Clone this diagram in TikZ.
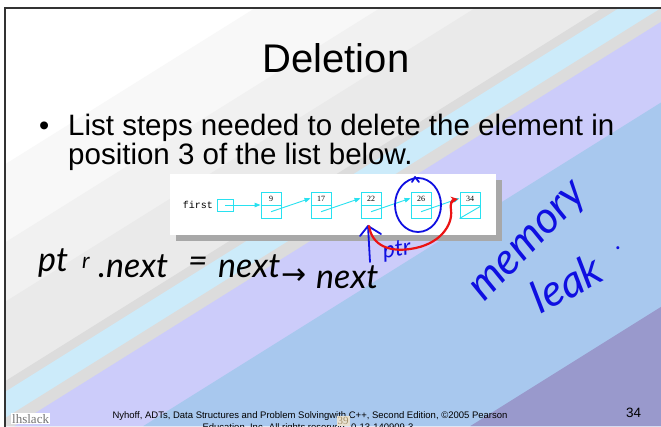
\documentclass[tikz,border=0pt]{standalone}
\usepackage{fontspec}
\usepackage{graphicx}
\setmainfont{Liberation Sans}
\newfontfamily\serifft{Liberation Serif}
\newfontfamily\monoft{Liberation Mono}
\newfontfamily\handft{Lato}
\newfontfamily\dvft{DejaVu Sans}
\usetikzlibrary{arrows.meta,calc}
\definecolor{bgA}{HTML}{F8F8F8}
\definecolor{bgB}{HTML}{F1F1F1}
\definecolor{bgC}{HTML}{EAEAEA}
\definecolor{bgGray}{HTML}{DCDCDC}
\definecolor{bgLblue}{HTML}{CCEBFA}
\definecolor{bgLav}{HTML}{CCCCFA}
\definecolor{bgBlue}{HTML}{A8C8EE}
\definecolor{bgPurp}{HTML}{9999CC}
\definecolor{cy}{RGB}{40,225,240}
\definecolor{pen}{RGB}{15,15,225}
\definecolor{redpen}{RGB}{235,20,20}
\definecolor{shadow}{HTML}{A8A8A8}
\definecolor{tag}{RGB}{232,226,210}
\definecolor{tagtxt}{RGB}{165,145,105}
\tikzset{
  lnode/.style={draw=cy, line width=0.9pt, minimum width=20pt, minimum height=26pt, inner sep=0pt},
  numtxt/.style={font=\serifft\fontsize{8}{9}\selectfont, inner sep=0pt},
  carrow/.style={draw=cy, line width=0.9pt, -{Triangle[length=6pt,width=4.5pt]}},
  bluepen/.style={draw=pen, line width=1.8pt, line cap=round, line join=round},
  hand/.style={font=\handft\itshape\fontsize{34}{38}\selectfont, inner sep=0pt, anchor=base west},
  bluehand/.style={font=\handft\itshape\fontsize{44}{48}\selectfont, inner sep=0pt, text=pen},
}
\begin{document}
\begin{tikzpicture}[x=1pt,y=-1pt]
\useasboundingbox (0,0) rectangle (661,426);
\begin{scope}
\clip (0,0) rectangle (661,426);
\fill[white] (0,0) rectangle (661,426);
\begin{scope}
\clip (5,8) rectangle (661,426);
\foreach \xo/\c in {268/bgA, 393/bgB, 488/bgC, 615/bgGray, 632/bgLblue, 674/bgGray, 696/bgLav, 825/bgBlue, 1152/bgPurp}
  \fill[\c] (\xo,0) -- ({\xo-681.6},426) -- (2000,426) -- (2000,0) -- cycle;
\end{scope}
\draw[line width=1.5pt, black!80] (5,430) -- (5,8) -- (665,8);

% title and bullet text
\node[anchor=base, font=\fontsize{40}{46}\selectfont, inner sep=0pt] (title) at (336,72) {Deletion};
\node[anchor=base west, font=\fontsize{29}{34}\selectfont, inner sep=0pt] (bul) at (39,135) {•};
\node[anchor=base west, font=\fontsize{29.5}{34}\selectfont, inner sep=0pt] (l1) at (68,135) {List steps needed to delete the element in};
\node[anchor=base west, font=\fontsize{29.5}{34}\selectfont, inner sep=0pt] (l2) at (68,164) {position 3 of the list below.};

% list figure
\fill[shadow] (176,180) rectangle (502,241);
\fill[white] (170,174) rectangle (496,235);
\node[font=\monoft\fontsize{10}{11}\selectfont, inner sep=0pt] (ft) at (198,205) {first};
\node[draw=cy, line width=0.9pt, minimum width=16pt, minimum height=12pt, inner sep=0pt] (fp) at (225,205) {};
\foreach \n/\xx in {9/271, 17/321, 22/371, 26/421, 34/470} {
  \node[lnode] (n\n) at (\xx,205) {};
  \draw[cy, line width=0.9pt] (n\n.west) -- (n\n.east);
  \node[numtxt] (v\n) at ($(n\n.north)!0.26!(n\n.south)$) {\n};
}
\draw[carrow] (fp.center) -- (n9.west);
\draw[carrow] ($(n9.center)!0.5!(n9.south)$) -- ($(n17.north west)!0.5!(n17.west)$);
\draw[carrow] ($(n17.center)!0.5!(n17.south)$) -- ($(n22.north west)!0.5!(n22.west)$);
\draw[carrow] ($(n22.center)!0.5!(n22.south)$) -- ($(n26.north west)!0.5!(n26.west)$);
\draw[carrow] ($(n26.center)!0.5!(n26.south)$) -- ($(n34.north west)!0.5!(n34.west)$);
\draw[cy, line width=0.9pt] (n34.south west) -- ($(n34.east)!0.1!(n34.south east)$);

% annotations
\draw[bluepen] (418,205) ellipse [x radius=23, y radius=27];
\draw[bluepen] (412,182) -- (415,177) -- (419,182);
\coordinate (bs) at (370,262);
\coordinate (bt) at (368,226);
\coordinate (bl) at (360,236);
\coordinate (br) at (381,234);
\draw[bluepen] (bs) -- (bt);
\draw[bluepen] (bl) -- (bt) -- (br);
\node[font=\handft\itshape\fontsize{23}{25}\selectfont, text=pen, inner sep=0pt, rotate=8] (ptr) at (397,251) {ptr};
\coordinate (rs) at (369,226);
\coordinate (re) at (458,199);
\draw[redpen, line width=2.2pt, line cap=round, -{Stealth[length=7pt,width=7pt]}] (rs) .. controls (372,246) and (390,252) .. (410,249) .. controls (440,245) and (453,225) .. (451,210) .. controls (450,203) and (452,200) .. (re);

\node[bluehand, rotate=46] (mem) at (531,244) {memory};
\node[bluehand, rotate=28] (leak) at (566,283) {leak};
\node[bluehand, font=\handft\fontsize{24}{26}\selectfont] (dot) at (618,248) {.};

% black handwriting
\node[hand] (h1) at (38,271) {pt};
\node[hand, font=\handft\itshape\fontsize{22}{24}\selectfont] (h2) at (82,268) {r};
\node[hand] (h3) at (98,277) {.next};
\node[hand] (h4) at (188,272) {=};
\node[hand] (h5) at (218,277) {next};
\node[hand, font=\dvft\fontsize{30}{32}\selectfont] (h6) at (281,284) {→};
\node[hand] (h7) at (316,288) {next};

% footer
\node[fill=white, inner sep=1pt, anchor=base west, font=\serifft\fontsize{13}{14}\selectfont, text=black!55] (lh) at (11,423) {lhslack};
\node[anchor=base, font=\fontsize{9.5}{10}\selectfont, inner sep=0pt] (f1) at (310,418) {Nyhoff, ADTs, Data Structures and Problem Solvingwith C++, Second Edition, ©2005 Pearson};
\node[anchor=base, font=\fontsize{9.5}{10}\selectfont, inner sep=0pt] (f2) at (308,430) {Education, Inc. All rights reserved. 0-13-140909-3};
\node[fill=tag, inner sep=1pt, font=\serifft\fontsize{11}{12}\selectfont, text=tagtxt] (tg) at (343,421) {39};
\node[anchor=base west, font=\fontsize{13.5}{15}\selectfont, inner sep=0pt] (pg) at (626,417) {34};
\end{scope}
\end{tikzpicture}
\end{document}
